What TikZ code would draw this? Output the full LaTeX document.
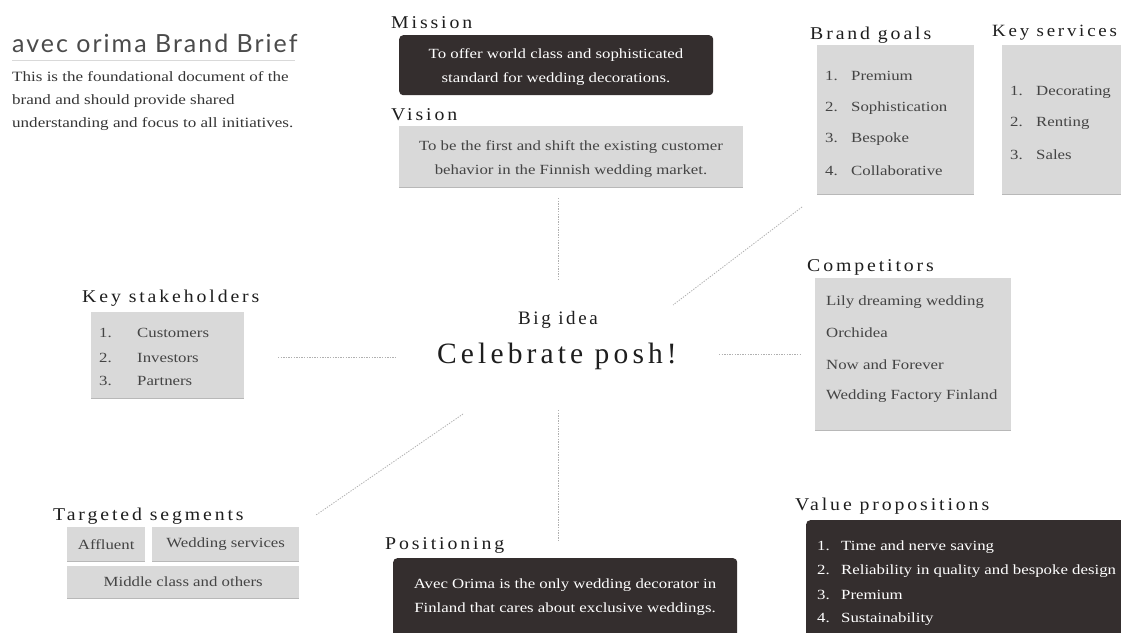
\documentclass[tikz,border=0pt]{standalone}
\usepackage{fontspec}
\setmainfont{Liberation Serif}[FakeStretch=1.2]
\newfontfamily\labfont{Liberation Serif}[LetterSpace=16,FakeStretch=1.1]
\newfontfamily\bigfont{Liberation Serif}[LetterSpace=14]
\newfontfamily\titlefont{Lato}[LetterSpace=8]
\definecolor{darkbox}{HTML}{342E2E}
\definecolor{graybox}{HTML}{D9D9D9}
\definecolor{gtext}{HTML}{444444}
\definecolor{ltext}{HTML}{1E1E1E}
\definecolor{shade}{HTML}{B8B8B8}
\definecolor{dotc}{HTML}{B0B0B0}
\tikzset{
  gbox/.style={fill=graybox, draw=none, inner sep=0, anchor=north west, text=gtext, font=\fontsize{14}{16}\selectfont},
  dbox/.style={fill=darkbox, draw=none, rounded corners=4pt, inner sep=0, anchor=north west},
  lab/.style={inner sep=0, anchor=west, text=ltext, font=\labfont\fontsize{18}{18}\selectfont},
  item/.style={inner sep=0, anchor=west, text=gtext, font=\fontsize{14}{16}\selectfont},
  witem/.style={inner sep=0, anchor=west, text=white, font=\fontsize{14}{16}\selectfont},
  shadeline/.style={draw=shade, line width=1pt},
  dotline/.style={draw=dotc, line width=0.8pt, dash pattern=on 1.3pt off 1.3pt},
}
\begin{document}
\begin{tikzpicture}[x=1pt,y=-1pt]
\useasboundingbox[fill=white] (0,0) rectangle (1121,632);

% Title and intro
\node[inner sep=0, anchor=west, text=ltext!80, font=\titlefont\fontsize{25}{25}\selectfont] (title) at (12,43) {avec orima Brand Brief};
\coordinate (rulea) at (12,60);
\coordinate (ruleb) at (295,60);
\draw[draw=graybox, line width=0.8pt] (rulea) -- (ruleb);
\node[inner sep=0, anchor=west, align=left, text=ltext!90, font=\fontsize{14.2}{23}\selectfont] (intro) at (12,101) {This is the foundational document of the\\brand and should provide shared\\understanding and focus to all initiatives.};

% Mission
\node[lab] (missionlab) at (391,23) {Mission};
\node[dbox, minimum width=314, minimum height=60] (missionbox) at (399,35) {};
\node[inner sep=0, align=center, text=white, font=\fontsize{14}{24}\selectfont] (missiontxt) at (556,67) {To offer world class and sophisticated\\standard for wedding decorations.};

% Vision
\node[lab] (visionlab) at (391,115) {Vision};
\node[gbox, minimum width=344, minimum height=61] (visionbox) at (399,126) {};
\draw[shadeline] (visionbox.south west) -- (visionbox.south east);
\node[inner sep=0, align=center, text=gtext, font=\fontsize{14}{24}\selectfont] (visiontxt) at (571,159) {To be the first and shift the existing customer\\behavior in the Finnish wedding market.};

% Brand goals
\node[lab] (goalslab) at (810,35) {Brand goals};
\node[gbox, minimum width=157, minimum height=149] (goalsbox) at (817,45) {};
\draw[shadeline] (goalsbox.south west) -- (goalsbox.south east);
\node[item] (g1) at (825,76) {\makebox[26pt][l]{1.}Premium};
\node[item] (g2) at (825,108) {\makebox[26pt][l]{2.}Sophistication};
\node[item] (g3) at (825,139) {\makebox[26pt][l]{3.}Bespoke};
\node[item] (g4) at (825,171) {\makebox[26pt][l]{4.}Collaborative};

% Key services
\node[lab, font=\labfont\fontsize{17.2}{17.2}\selectfont] (servlab) at (992,33) {Key services};
\node[gbox, minimum width=125, minimum height=149] (servbox) at (1002,45) {};
\draw[shadeline] (servbox.south west) -- (servbox.south east);
\node[item] (s1) at (1010,92) {\makebox[26pt][l]{1.}Decorating};
\node[item] (s2) at (1010,123) {\makebox[26pt][l]{2.}Renting};
\node[item] (s3) at (1010,155) {\makebox[26pt][l]{3.}Sales};

% Competitors
\node[lab] (complab) at (807,267) {Competitors};
\node[gbox, minimum width=196, minimum height=152] (compbox) at (815,278) {};
\draw[shadeline] (compbox.south west) -- (compbox.south east);
\node[item] (c1) at (826,302) {Lily dreaming wedding};
\node[item] (c2) at (826,333) {Orchidea};
\node[item] (c3) at (826,365) {Now and Forever};
\node[item] (c4) at (826,396) {Wedding Factory Finland};

% Key stakeholders
\node[lab] (stakelab) at (82,298) {Key stakeholders};
\node[gbox, minimum width=153, minimum height=86] (stakebox) at (91,312) {};
\draw[shadeline] (stakebox.south west) -- (stakebox.south east);
\node[item] (k1) at (99,333) {\makebox[38pt][l]{1.}Customers};
\node[item] (k2) at (99,358) {\makebox[38pt][l]{2.}Investors};
\node[item] (k3) at (99,381) {\makebox[38pt][l]{3.}Partners};

% Big idea
\node[inner sep=0, text=ltext, font=\bigfont\fontsize{19}{19}\selectfont] (bigidea) at (558,320) {Big idea};
\node[inner sep=0, text=ltext, font=\bigfont\fontsize{29.5}{29.5}\selectfont] (celebrate) at (557,356) {Celebrate posh!};

% Targeted segments
\node[lab] (seglab) at (53,516) {Targeted segments};
\node[gbox, minimum width=78, minimum height=34] (aff) at (67,527) {Affluent};
\node[gbox, minimum width=147, minimum height=34] (wserv) at (152,527) {Wedding services};
\node[gbox, minimum width=232, minimum height=32] (middle) at (67,566) {Middle class and others};
\draw[shadeline] (aff.south west) -- (aff.south east);
\draw[shadeline] (wserv.south west) -- (wserv.south east);
\draw[shadeline] (middle.south west) -- (middle.south east);

% Positioning
\node[lab] (poslab) at (385,545) {Positioning};
\node[dbox, minimum width=344, minimum height=80] (posbox) at (393,558) {};
\node[inner sep=0, align=center, text=white, font=\fontsize{14}{23.5}\selectfont] (postxt) at (565,597) {Avec Orima is the only wedding decorator in\\Finland that cares about exclusive weddings.};

% Value propositions
\node[lab] (vallab) at (795,506) {Value propositions};
\node[dbox, minimum width=330, minimum height=120] (valbox) at (806,520) {};
\node[witem] (v1) at (817,547) {\makebox[24pt][l]{1.}Time and nerve saving};
\node[witem] (v2) at (817,571) {\makebox[24pt][l]{2.}Reliability in quality and bespoke design};
\node[witem] (v3) at (817,595) {\makebox[24pt][l]{3.}Premium};
\node[witem] (v4) at (817,619) {\makebox[24pt][l]{4.}Sustainability};

% Dotted connectors
\coordinate (topa) at (558,198);
\coordinate (topb) at (558,280);
\coordinate (tra) at (802,207);
\coordinate (trb) at (673,305);
\coordinate (lefta) at (278,357);
\coordinate (leftb) at (397,357);
\coordinate (righta) at (719,354);
\coordinate (rightb) at (802,354);
\coordinate (bla) at (463,414);
\coordinate (blb) at (316,515);
\coordinate (bota) at (558,410);
\coordinate (botb) at (558,542);
\draw[dotline] (topa) -- (topb);
\draw[dotline] (tra) -- (trb);
\draw[dotline] (lefta) -- (leftb);
\draw[dotline] (righta) -- (rightb);
\draw[dotline] (bla) -- (blb);
\draw[dotline] (bota) -- (botb);
\end{tikzpicture}
\end{document}
